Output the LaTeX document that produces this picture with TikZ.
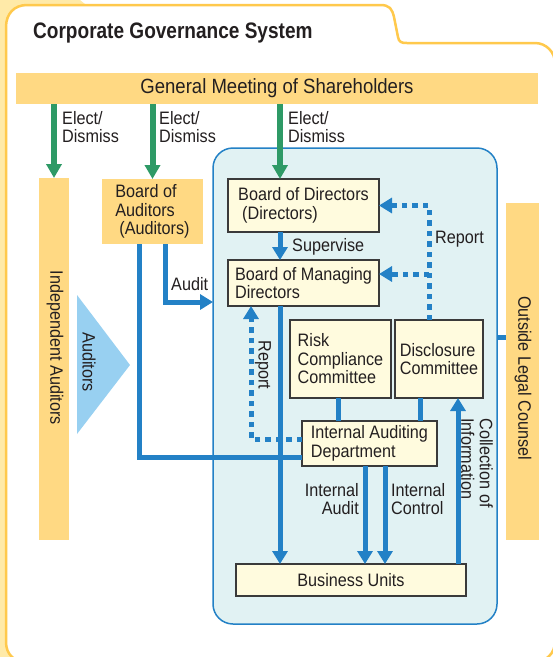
\documentclass[tikz,border=0pt]{standalone}
\usepackage{fontspec}
\setmainfont{Liberation Sans}[FakeStretch=0.9]
\newfontfamily\titlefont{Liberation Sans}[FakeStretch=0.85]
\usetikzlibrary{arrows.meta}
\definecolor{cblue}{HTML}{2381C6}
\definecolor{cgreen}{HTML}{2E9A66}
\definecolor{cyellow}{HTML}{FFD983}
\definecolor{clight}{HTML}{FFEAA8}
\definecolor{cframe}{HTML}{FFC94C}
\definecolor{cpanel}{HTML}{E1F2F3}
\definecolor{ccream}{HTML}{FFFBDE}
\definecolor{cgray}{HTML}{3A3A3A}
\definecolor{ctext}{HTML}{231F20}
\definecolor{ctri}{HTML}{98D0F1}
\tikzset{
  bline/.style={draw=cblue, line width=5pt},
  barrow/.style={bline, -{Triangle[width=15pt,length=13pt]}},
  dline/.style={draw=cblue, line width=5pt, dash pattern=on 5.5pt off 5pt},
  darrow/.style={dline, -{Triangle[width=15pt,length=13pt]}},
  garrow/.style={draw=cgreen, line width=6pt, -{Triangle[width=15pt,length=14pt]}},
  ybox/.style={fill=cyellow, inner sep=0pt, outer sep=0pt, anchor=north west},
  cbox/.style={draw=cgray, line width=1.1pt, fill=ccream, inner sep=0pt, outer sep=0pt, align=left, anchor=north west},
  lbl/.style={inner sep=0pt, align=left},
}
\begin{document}
\begin{tikzpicture}[x=1pt,y=-1pt, every node/.append style={text=ctext, font=\fontsize{18}{18.5}\selectfont}]
\useasboundingbox (0,0) rectangle (553,657);
\clip (0,0) rectangle (553,657);
% background and frame
\fill[clight] (0,0) -- (80,0) -- (90,8) -- (90,657) -- (0,657) -- cycle;
\draw[cframe, line width=2.5pt, fill=white] (26,662) .. controls (14,662) and (6,654) .. (6,642) -- (6,27) .. controls (6,14) and (14,5) .. (27,5) -- (380,5) .. controls (390,5) and (392,9) .. (394,17) -- (398,37) .. controls (399,42) and (401,43) .. (407,43) -- (535,43) .. controls (546,43) and (555,52) .. (555,63) -- (555,642) .. controls (555,653) and (546,662) .. (535,662) -- cycle;
% title
\node[anchor=west, inner sep=0pt, font=\titlefont\bfseries\fontsize{22.4}{24}\selectfont] (title) at (33,33) {Corporate Governance System};
% general meeting
\node[ybox, minimum width=522pt, minimum height=31pt, font=\fontsize{20.6}{22}\selectfont] (gm) at (16,73) {General Meeting of Shareholders};
% independent auditors
\node[ybox, minimum width=30pt, minimum height=362pt] (ia) at (39,178) {};
\node[rotate=-90, inner sep=0pt] (iat) at (55,348) {Independent Auditors};
\fill[ctri] (77,295) -- (130,365) -- (77,434) -- cycle;
\node[rotate=-90, inner sep=0pt] (aud) at (89,362) {Auditors};
% board of auditors
\node[ybox, minimum width=101pt, minimum height=65pt, align=left] (boa) at (102,179) {Board of\\Auditors\\\hspace*{4pt}(Auditors)};
% panel
\node[draw=cblue, line width=1.5pt, fill=cpanel, rounded corners=20pt, minimum width=284pt, minimum height=476pt, anchor=north west, inner sep=0pt, outer sep=0pt] (panel) at (213,148) {};
% outside legal counsel
\node[ybox, minimum width=33pt, minimum height=337pt] (olc) at (506,203) {};
\node[rotate=-90, inner sep=0pt] (olct) at (523,378) {Outside Legal Counsel};
% boxes
\node[cbox, minimum width=151pt, minimum height=53pt] (bod) at (228,179) {Board of Directors\\\hspace*{4pt}(Directors)};
\node[cbox, minimum width=151pt, minimum height=46pt] (bmd) at (228,260) {Board of Managing\\Directors};
\node[cbox, minimum width=101pt, minimum height=78pt] (rcc) at (290,320) {Risk\\Compliance\\Committee};
\node[cbox, minimum width=88pt, minimum height=78pt] (dc) at (395,320) {Disclosure\\Committee};
\node[cbox, minimum width=135pt, minimum height=45pt] (iad) at (302,421) {Internal Auditing\\Department};
\node[cbox, align=center, minimum width=230pt, minimum height=32pt] (bu) at (236,564) {Business Units};
% helper coordinates
\coordinate (xm) at (280,0);
\coordinate (xa) at (165,0);
\coordinate (xb) at (139,0);
\coordinate (ya) at (0,302);
\coordinate (xr1) at (338,0);
\coordinate (xd1) at (420,0);
\coordinate (xia) at (365,0);
\coordinate (xic) at (385,0);
\coordinate (xc) at (458,0);
\coordinate (yo) at (0,337);
\coordinate (xl) at (251,0);
\coordinate (xr) at (429,0);
\coordinate (yb) at (0,274);
% green arrows
\draw[garrow] (ia.north |- gm.south) -- (ia.north);
\draw[garrow] (boa.north |- gm.south) -- (boa.north);
\draw[garrow] (xm |- gm.south) -- (xm |- bod.north);
% blue connectors
\draw[barrow] (bod.south -| xm) -- (bmd.north -| xm);
\draw[barrow] (boa.south -| xa) |- (panel.west |- ya);
\draw[bline] (boa.south -| xb) |- ([yshift=-13.5pt]iad.west);
\draw[barrow] (bmd.south -| xm) -- (bu.north -| xm);
\draw[bline] (rcc.south -| xr1) -- (iad.north -| xr1);
\draw[bline] (dc.south -| xd1) -- (iad.north -| xd1);
\draw[barrow] (iad.south -| xia) -- (bu.north -| xia);
\draw[barrow] (iad.south -| xic) -- (bu.north -| xic);
\draw[barrow] (bu.north -| xc) -- (dc.south -| xc);
\draw[bline] (panel.east |- yo) -- (olc.west |- yo);
% dotted report connectors
\draw[darrow] ([yshift=-18pt]iad.north west) -| (bmd.south -| xl);
\draw[darrow] (dc.north -| xr) |- (bod.east);
\draw[darrow] (xr |- yb) -- (bmd.east |- yb);
% labels
\node[lbl, anchor=west] (l1) at (62,127) {Elect/\\Dismiss};
\node[lbl, anchor=west] (l2) at (159,127) {Elect/\\Dismiss};
\node[lbl, anchor=west] (l3) at (288,127) {Elect/\\Dismiss};
\node[lbl, anchor=west] (lsup) at (292,247) {Supervise};
\node[lbl, anchor=west] (laud) at (171,284) {Audit};
\node[lbl, rotate=-90] (lrep1) at (263,365) {Report};
\node[lbl, anchor=west] (lrep2) at (435,239) {Report};
\node[lbl, align=right, anchor=east] (lia) at (359,499) {Internal\\Audit};
\node[lbl, anchor=west] (lic) at (391,499) {Internal\\Control};
\node[lbl, rotate=-90] (lcol) at (477,463) {Collection of\\Information};
\end{tikzpicture}
\end{document}
